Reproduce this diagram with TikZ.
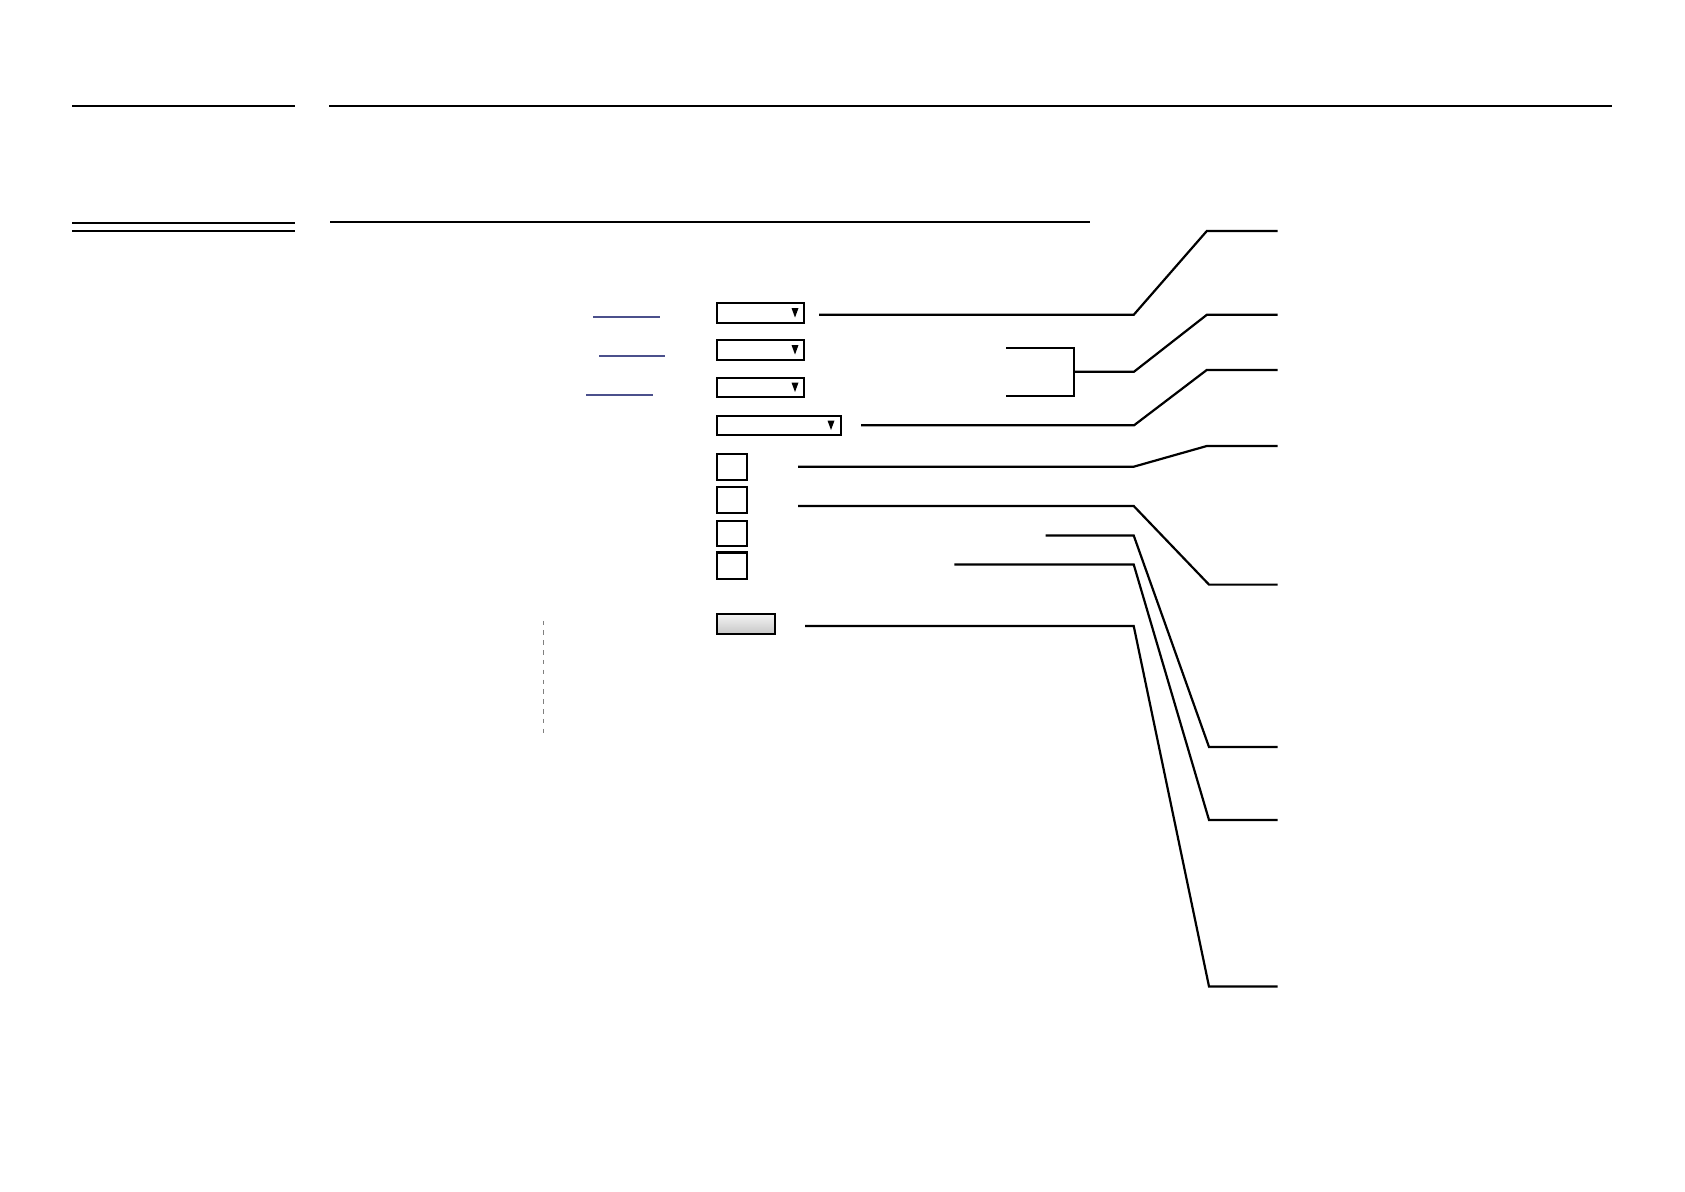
\documentclass[tikz,border=0pt]{standalone}
\begin{document}
\begin{tikzpicture}[x=0.1mm,y=-0.1mm,
  rule/.style={line width=0.2mm,black},
  conn/.style={line width=0.22mm,black},
  ctrl/.style={draw=black,line width=0.22mm,fill=white,inner sep=0pt,outer sep=0pt,anchor=center},
  tri/.style={fill=black},
  link/.style={line width=0.15mm,color={rgb,255:red,75;green,80;blue,140}},
  btn/.style={ctrl,top color=gray!8,bottom color=gray!45}]
\useasboundingbox (0,0) rectangle (1685,1191);
% header rules
\draw[rule] (72,105.5) -- (295,105.5);
\draw[rule] (329,105.5) -- (1612,105.5);
\draw[rule] (72,222.5) -- (295,222.5);
\draw[rule] (72,230.5) -- (295,230.5);
\draw[rule] (330,222) -- (1090,222);
% link underlines
\draw[link] (593,317) -- (660,317);
\draw[link] (599,356) -- (665,356);
\draw[link] (586,395) -- (653,395);
% dropdowns
\node[ctrl,minimum width=8.74mm,minimum height=1.98mm] (dd1) at (760.5,313) {};
\node[ctrl,minimum width=8.74mm,minimum height=1.98mm] (dd2) at (760.5,350) {};
\node[ctrl,minimum width=8.74mm,minimum height=1.94mm] (dd3) at (760.5,387.5) {};
\node[ctrl,minimum width=12.44mm,minimum height=1.91mm] (dd4) at (779,425.3) {};
\foreach \x/\y in {795/308,795/345,795/382.5,831/420.5}{
  \fill[tri] (\x-3.5,\y) -- (\x+3.5,\y) -- (\x,\y+9.5) -- cycle;
}
% checkboxes
\node[ctrl,minimum width=3.04mm,minimum height=2.61mm] (cb1) at (732,466.85) {};
\node[ctrl,minimum width=3.04mm,minimum height=2.61mm] (cb2) at (732,499.85) {};
\node[ctrl,minimum width=3.04mm,minimum height=2.54mm] (cb3) at (732,533.5) {};
\node[ctrl,minimum width=3.04mm,minimum height=2.65mm] (cb4) at (732,565.65) {};
% button
\node[btn,minimum width=5.81mm,minimum height=2.04mm] (bt) at (745.85,624) {};
% dashed separator
\draw[gray,line width=0.15mm,dash pattern=on 1.3pt off 1.5pt] (543.5,620.5) coordinate (ds1) -- (543.5,736) coordinate (ds2);
% connector start/end coordinates
\coordinate (s1) at (819,314.8);
\coordinate (e1) at (1277.7,231);
\coordinate (bt1) at (1006,347.7);
\coordinate (bb1) at (1006,396);
\coordinate (e2) at (1277.7,314.8);
\coordinate (s3) at (861,425.3);
\coordinate (e3) at (1277.7,370);
\coordinate (s4) at (798,466.7);
\coordinate (e4) at (1277.7,446);
\coordinate (s5) at (798,506);
\coordinate (e5) at (1277.7,584.6);
\coordinate (s6) at (1045.6,535.5);
\coordinate (e6) at (1277.7,747);
\coordinate (s7) at (954.3,564.5);
\coordinate (e7) at (1277.7,820);
\coordinate (s8) at (805,626);
\coordinate (e8) at (1277.7,986.5);
% connectors
\draw[conn] (s1) -- (1133.7,314.8) -- (1206.8,231) -- (e1);
\draw[conn] (bt1) -- (1074,347.7) -- (1074,396) -- (bb1);
\draw[conn] (1074,371.7) -- (1134,371.7) -- (1206.8,314.8) -- (e2);
\draw[conn] (s3) -- (1134,425.3) -- (1206.7,370) -- (e3);
\draw[conn] (s4) -- (1133.7,466.7) -- (1206.8,446) -- (e4);
\draw[conn] (s5) -- (1133.7,506) -- (1209,584.6) -- (e5);
\draw[conn] (s6) -- (1133.7,535.5) -- (1209,747) -- (e6);
\draw[conn] (s7) -- (1133.7,564.5) -- (1209,820) -- (e7);
\draw[conn] (s8) -- (1133.7,626) -- (1209,986.5) -- (e8);
\end{tikzpicture}
\end{document}
